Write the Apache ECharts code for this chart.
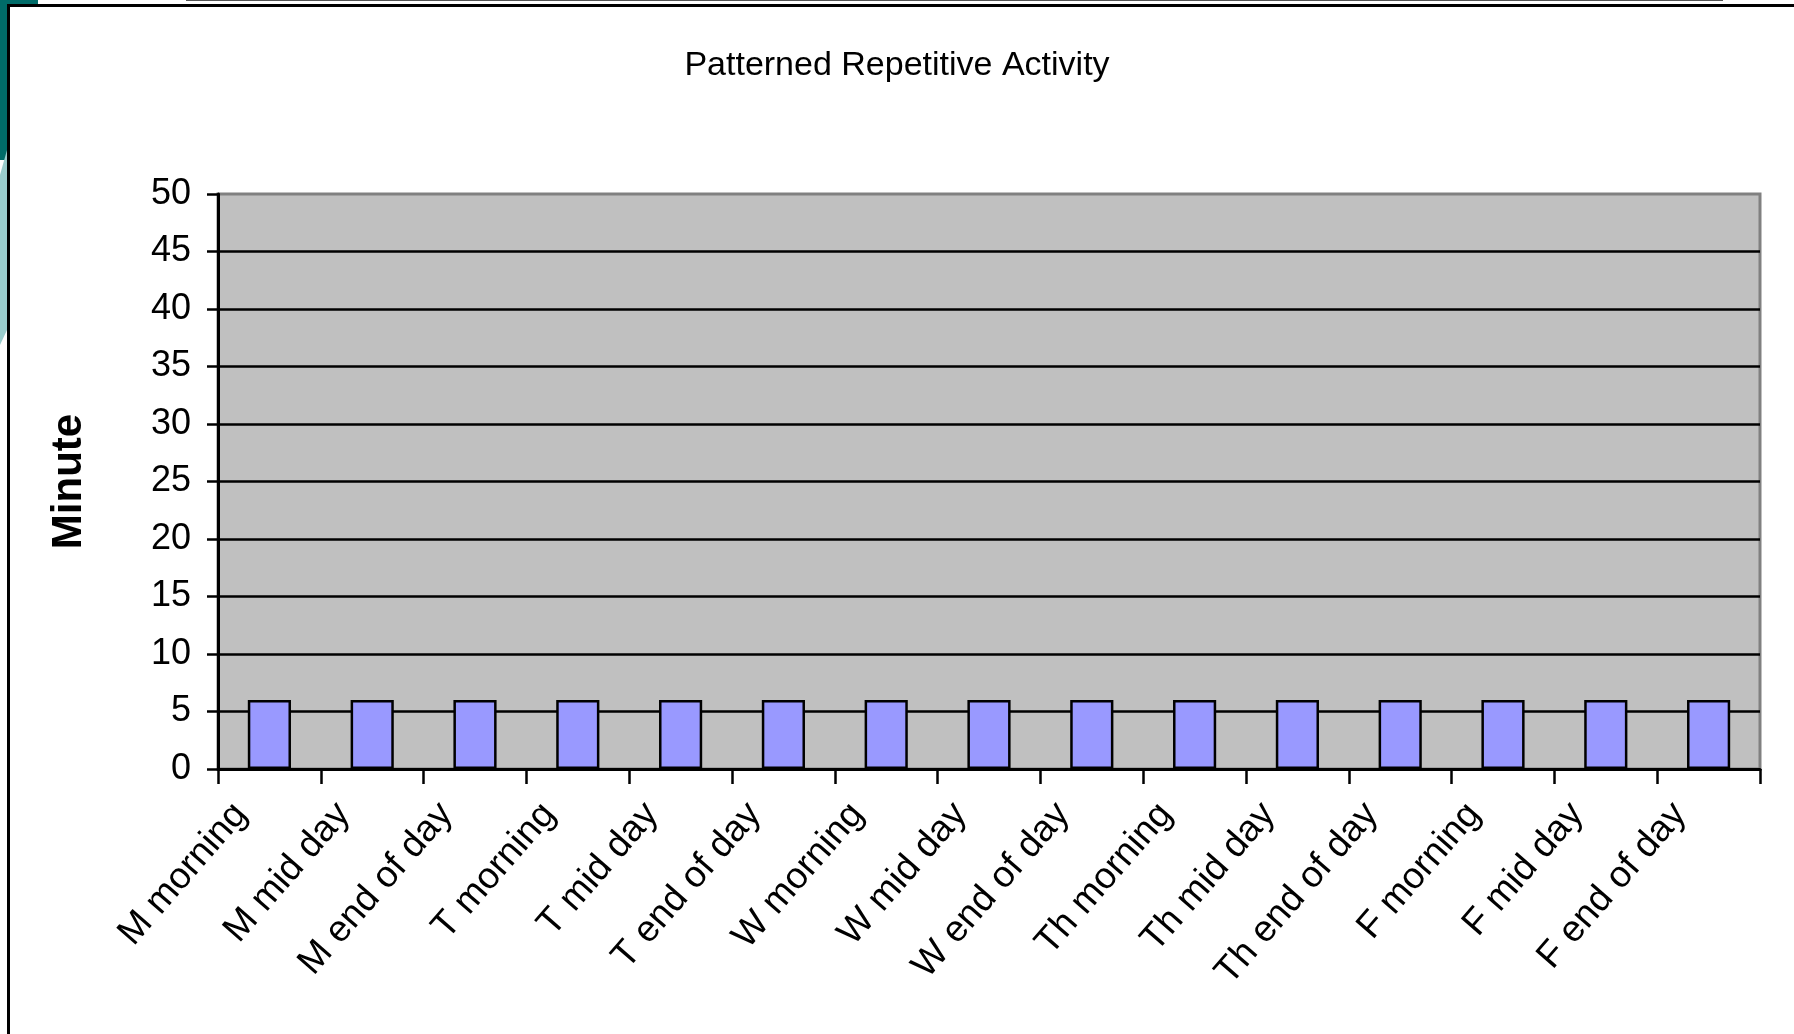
<!DOCTYPE html>
<html>
<head>
<meta charset="utf-8">
<script src="https://cdn.jsdelivr.net/npm/echarts@6/dist/echarts.min.js"></script>
<style>
  html, body { margin: 0; padding: 0; background: #fff; }
  #chart { width: 1794px; height: 1034px; }
</style>
</head>
<body>
<div id="chart"></div>
<script>
// categories along the x axis
const slots = [
  "M morning", "M mid day", "M end of day",
  "T morning", "T mid day", "T end of day",
  "W morning", "W mid day", "W end of day",
  "Th morning", "Th mid day", "Th end of day",
  "F morning", "F mid day", "F end of day"
];
// minutes per slot
const minutes = [6, 6, 6, 6, 6, 6, 6, 6, 6, 6, 6, 6, 6, 6, 6];
// y axis range
const yMin = 0;
const yMax = 50;
const yStep = 5;

const chart = echarts.init(document.getElementById("chart"));

const option = {
  backgroundColor: "#fff",
  animation: false,
  title: {
    text: "Patterned Repetitive Activity",
    left: "center",
    top: 44,
    textStyle: {
      fontFamily: "Liberation Sans, Arial, sans-serif",
      fontSize: 34,
      fontWeight: "normal",
      color: "#000"
    }
  },
  // slide frame decoration
  graphic: [
    { type: "rect", shape: { x: 0, y: 0, width: 38, height: 5 }, style: { fill: "#006B68" } },
    { type: "rect", shape: { x: 0, y: 0, width: 7, height: 160 }, style: { fill: "#006B68" } },
    { type: "polygon", shape: { points: [[0, 175], [7, 150], [7, 330], [0, 345]] }, style: { fill: "#99CCCC" } },
    { type: "rect", shape: { x: 186, y: 0, width: 1537, height: 1 }, style: { fill: "#555" } },
    { type: "rect", shape: { x: 7, y: 4, width: 1787, height: 3 }, style: { fill: "#000" } },
    { type: "rect", shape: { x: 7, y: 4, width: 3, height: 1030 }, style: { fill: "#000" } }
  ],
  grid: {
    left: 218,
    right: 34,
    top: 194,
    bottom: 265,
    show: true,
    backgroundColor: "#C0C0C0",
    borderColor: "#808080",
    borderWidth: 3
  },
  xAxis: {
    type: "category",
    data: slots,
    axisLine: { show: true, lineStyle: { color: "#000", width: 3 } },
    axisTick: { show: true, alignWithLabel: false, length: 15, lineStyle: { color: "#000", width: 2.5 } },
    axisLabel: {
      interval: 0,
      rotate: 49,
      margin: 6,
      padding: [0, 44, 0, 0],
      fontFamily: "Liberation Sans, Arial, sans-serif",
      fontSize: 37,
      color: "#000"
    },
    splitLine: { show: false }
  },
  yAxis: {
    type: "value",
    min: yMin,
    max: yMax,
    interval: yStep,
    name: "Minutes",
    nameLocation: "middle",
    nameGap: 128,
    nameRotate: 90,
    nameTruncate: { maxWidth: 140, ellipsis: "" },
    nameTextStyle: {
      fontFamily: "Liberation Sans, Arial, sans-serif",
      fontSize: 42,
      fontWeight: "bold",
      color: "#000"
    },
    axisLine: { show: true, lineStyle: { color: "#000", width: 3 } },
    axisTick: { show: true, length: 11, lineStyle: { color: "#000", width: 2.5 } },
    axisLabel: {
      margin: 27,
      fontFamily: "Liberation Sans, Arial, sans-serif",
      fontSize: 36,
      color: "#000"
    },
    splitLine: {
      show: true,
      showMaxLine: false,
      lineStyle: { color: "#000", width: 2.5 }
    }
  },
  series: [
    {
      type: "bar",
      data: minutes,
      barWidth: "42%",
      itemStyle: {
        color: "#9999FF",
        borderColor: "#000",
        borderWidth: 2.5
      }
    }
  ]
};

chart.setOption(option);
</script>
</body>
</html>
